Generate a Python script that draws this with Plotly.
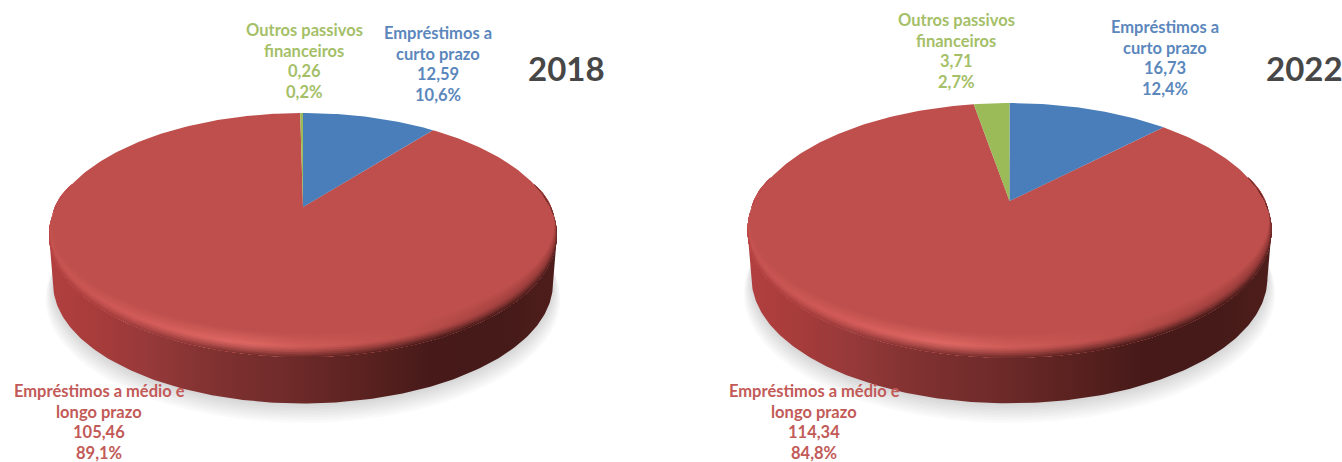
import numpy as np
import plotly.graph_objects as go

# Financial liabilities by type, in order clockwise from twelve o'clock
years = ["2018", "2022"]
names = [
    ["Empréstimos a", "curto prazo"],
    ["Empréstimos a médio e", "longo prazo"],
    ["Outros passivos", "financeiros"],
]
values_2018 = [12.59, 105.46, 0.26]
values_2022 = [16.73, 114.34, 3.71]
shares_2018 = ["10,6%", "89,1%", "0,2%"]
shares_2022 = ["12,4%", "84,8%", "2,7%"]

BLUE, RED, GREEN = "#4A7EBB", "#BE4F4C", "#9BBB59"
TEXT_BLUE, TEXT_RED, TEXT_GREEN = "#5B87BC", "#C25A58", "#A5BF68"
FONT = "Lato"

# Disc projection: apex, half width and perspective strength of each pie
discs = {
    "2018": dict(cx=303, cy=207, R=247.2, B=115.6, k=0.2295, drop=49.3, scale=0.985),
    "2022": dict(cx=1009.5, cy=201, R=255.0, B=120.6, k=0.231, drop=48.5, scale=0.985),
}
label_layout = {
    "2018": dict(title=(566, 68), x=[438, 99, 304], y=[33, 391, 30]),
    "2022": dict(title=(1304, 68), x=[1165, 814, 956], y=[27, 391, 20]),
}

wall_stops = [
    (0.00, (178, 63, 63)), (0.10, (166, 60, 59)), (0.20, (150, 57, 58)),
    (0.33, (127, 49, 48)), (0.45, (114, 44, 43)), (0.60, (93, 35, 33)),
    (0.75, (71, 26, 25)), (0.90, (69, 26, 24)), (1.00, (78, 29, 27)),
]
shine_stops = [
    (0.00, (197, 83, 80)), (0.20, (212, 92, 89)), (0.38, (222, 104, 100)),
    (0.50, (207, 91, 87)), (0.70, (190, 79, 76)), (1.00, (150, 58, 56)),
]
FACE = np.array((190, 79, 76), float)


def project(d, theta, r=1.0, dy=0.0):
    u, v = r * np.sin(theta), r * np.cos(theta)
    w = 1 + d["k"] * v
    return d["cx"] + d["R"] * u / w, d["cy"] - d["B"] * v / w + dy


def sample(stops, f):
    xs = [s[0] for s in stops]
    return np.array([np.interp(f, xs, [s[1][i] for s in stops]) for i in range(3)])


def rgb(c):
    return "rgb(%d,%d,%d)" % tuple(np.clip(np.round(c), 0, 255))


def poly(fig, x, y, color=None, gradient=None):
    kw = dict(fillcolor=color) if gradient is None else dict(fillgradient=gradient)
    fig.add_trace(go.Scatter(x=x, y=y, mode="lines", fill="toself", line=dict(width=0),
                             hoverinfo="skip", showlegend=False, **kw))


def draw_pie(fig, d, values):
    left = d["cx"] - d["R"] / np.sqrt(1 - d["k"] ** 2)
    right = d["cx"] + d["R"] / np.sqrt(1 - d["k"] ** 2)
    full = np.linspace(0, 2 * np.pi, 361)
    fronts = np.arccos(-d["k"])
    front = np.linspace(fronts, 2 * np.pi - fronts, 181)
    fracs = np.linspace(0, 1, 21)

    def grad(colors):
        scale = [[float(f), c] for f, c in zip(fracs, colors)]
        return dict(type="horizontal", colorscale=scale, start=left, stop=right)

    # soft cast shadow under the base
    for step in range(8):
        gx, gy = project(d, full, d["scale"] + 0.004 * step, d["drop"] + 2 + 1.7 * step)
        poly(fig, gx, gy, "rgba(60,60,60,0.022)")

    # side wall between the top rim and the base
    tx, ty = project(d, front)
    bx, by = project(d, front, d["scale"], d["drop"])
    poly(fig, np.r_[tx, bx[::-1]], np.r_[ty, by[::-1]],
         gradient=grad([rgb(sample(wall_stops, f)) for f in fracs]))

    # top face: one wedge per category, largest first
    total = sum(values)
    edges = np.r_[0, np.cumsum(values)] / total * 2 * np.pi
    for i in (1, 0, 2):
        arc = np.linspace(edges[i], edges[i + 1], max(3, int((edges[i + 1] - edges[i]) * 60)))
        ax, ay = project(d, arc)
        poly(fig, np.r_[d["cx"], ax, d["cx"]], np.r_[d["cy"], ay, d["cy"]],
             {0: BLUE, 1: RED, 2: GREEN}[i])

    # bevel along the front rim, painted from the inner edge outwards
    taper_arc = np.linspace(np.radians(78), np.radians(282), 205)
    ox, oy = project(d, taper_arc)
    bands = 14
    for j in range(bands):
        t = j / (bands - 1)
        height = 20 * (1 - t) + 1.0
        g = np.cos(np.clip((taper_arc - np.pi) / np.radians(102), -1, 1) * np.pi / 2) ** 0.8
        ix, iy = project(d, taper_arc, 1 - 0.022 * (1 - t) * g, -height * g)
        colors = []
        for f in fracs:
            shine, wall = sample(shine_stops, f), sample(wall_stops, f)
            if t < 0.55:
                c = FACE + (shine - FACE) * (t / 0.55)
            else:
                c = shine + (wall - shine) * ((t - 0.55) / 0.45) ** 1.3
            colors.append(rgb(c))
        poly(fig, np.r_[ox, ix[::-1]], np.r_[oy, iy[::-1]], gradient=grad(colors))


def put_text(fig, x, y, text, color, size=16.5):
    fig.add_annotation(x=x, y=y, text=text, showarrow=False, xanchor="center", yanchor="middle",
                       font=dict(family=FONT, size=size, color=color, weight="bold"))


def comma(v):
    return f"{v:.2f}".replace(".", ",")


fig = go.Figure()
series = {"2018": (values_2018, shares_2018), "2022": (values_2022, shares_2022)}
for year in years:
    vals, shares = series[year]
    draw_pie(fig, discs[year], vals)
    lay = label_layout[year]
    for i, color in enumerate((TEXT_BLUE, TEXT_RED, TEXT_GREEN)):
        lines = names[i] + [comma(vals[i]), shares[i]]
        for n, line in enumerate(lines):
            put_text(fig, lay["x"][i], lay["y"][i] + 20.6 * n, line, color)
    put_text(fig, lay["title"][0], lay["title"][1], year, "#474747", size=33)

fig.update_layout(
    width=1342, height=462, margin=dict(l=0, r=0, t=0, b=0),
    paper_bgcolor="white", plot_bgcolor="white", showlegend=False,
    xaxis=dict(range=[0, 1342], visible=False, fixedrange=True),
    yaxis=dict(range=[462, 0], visible=False, fixedrange=True),
)
fig.write_html("out.html", config=dict(displayModeBar=False))
